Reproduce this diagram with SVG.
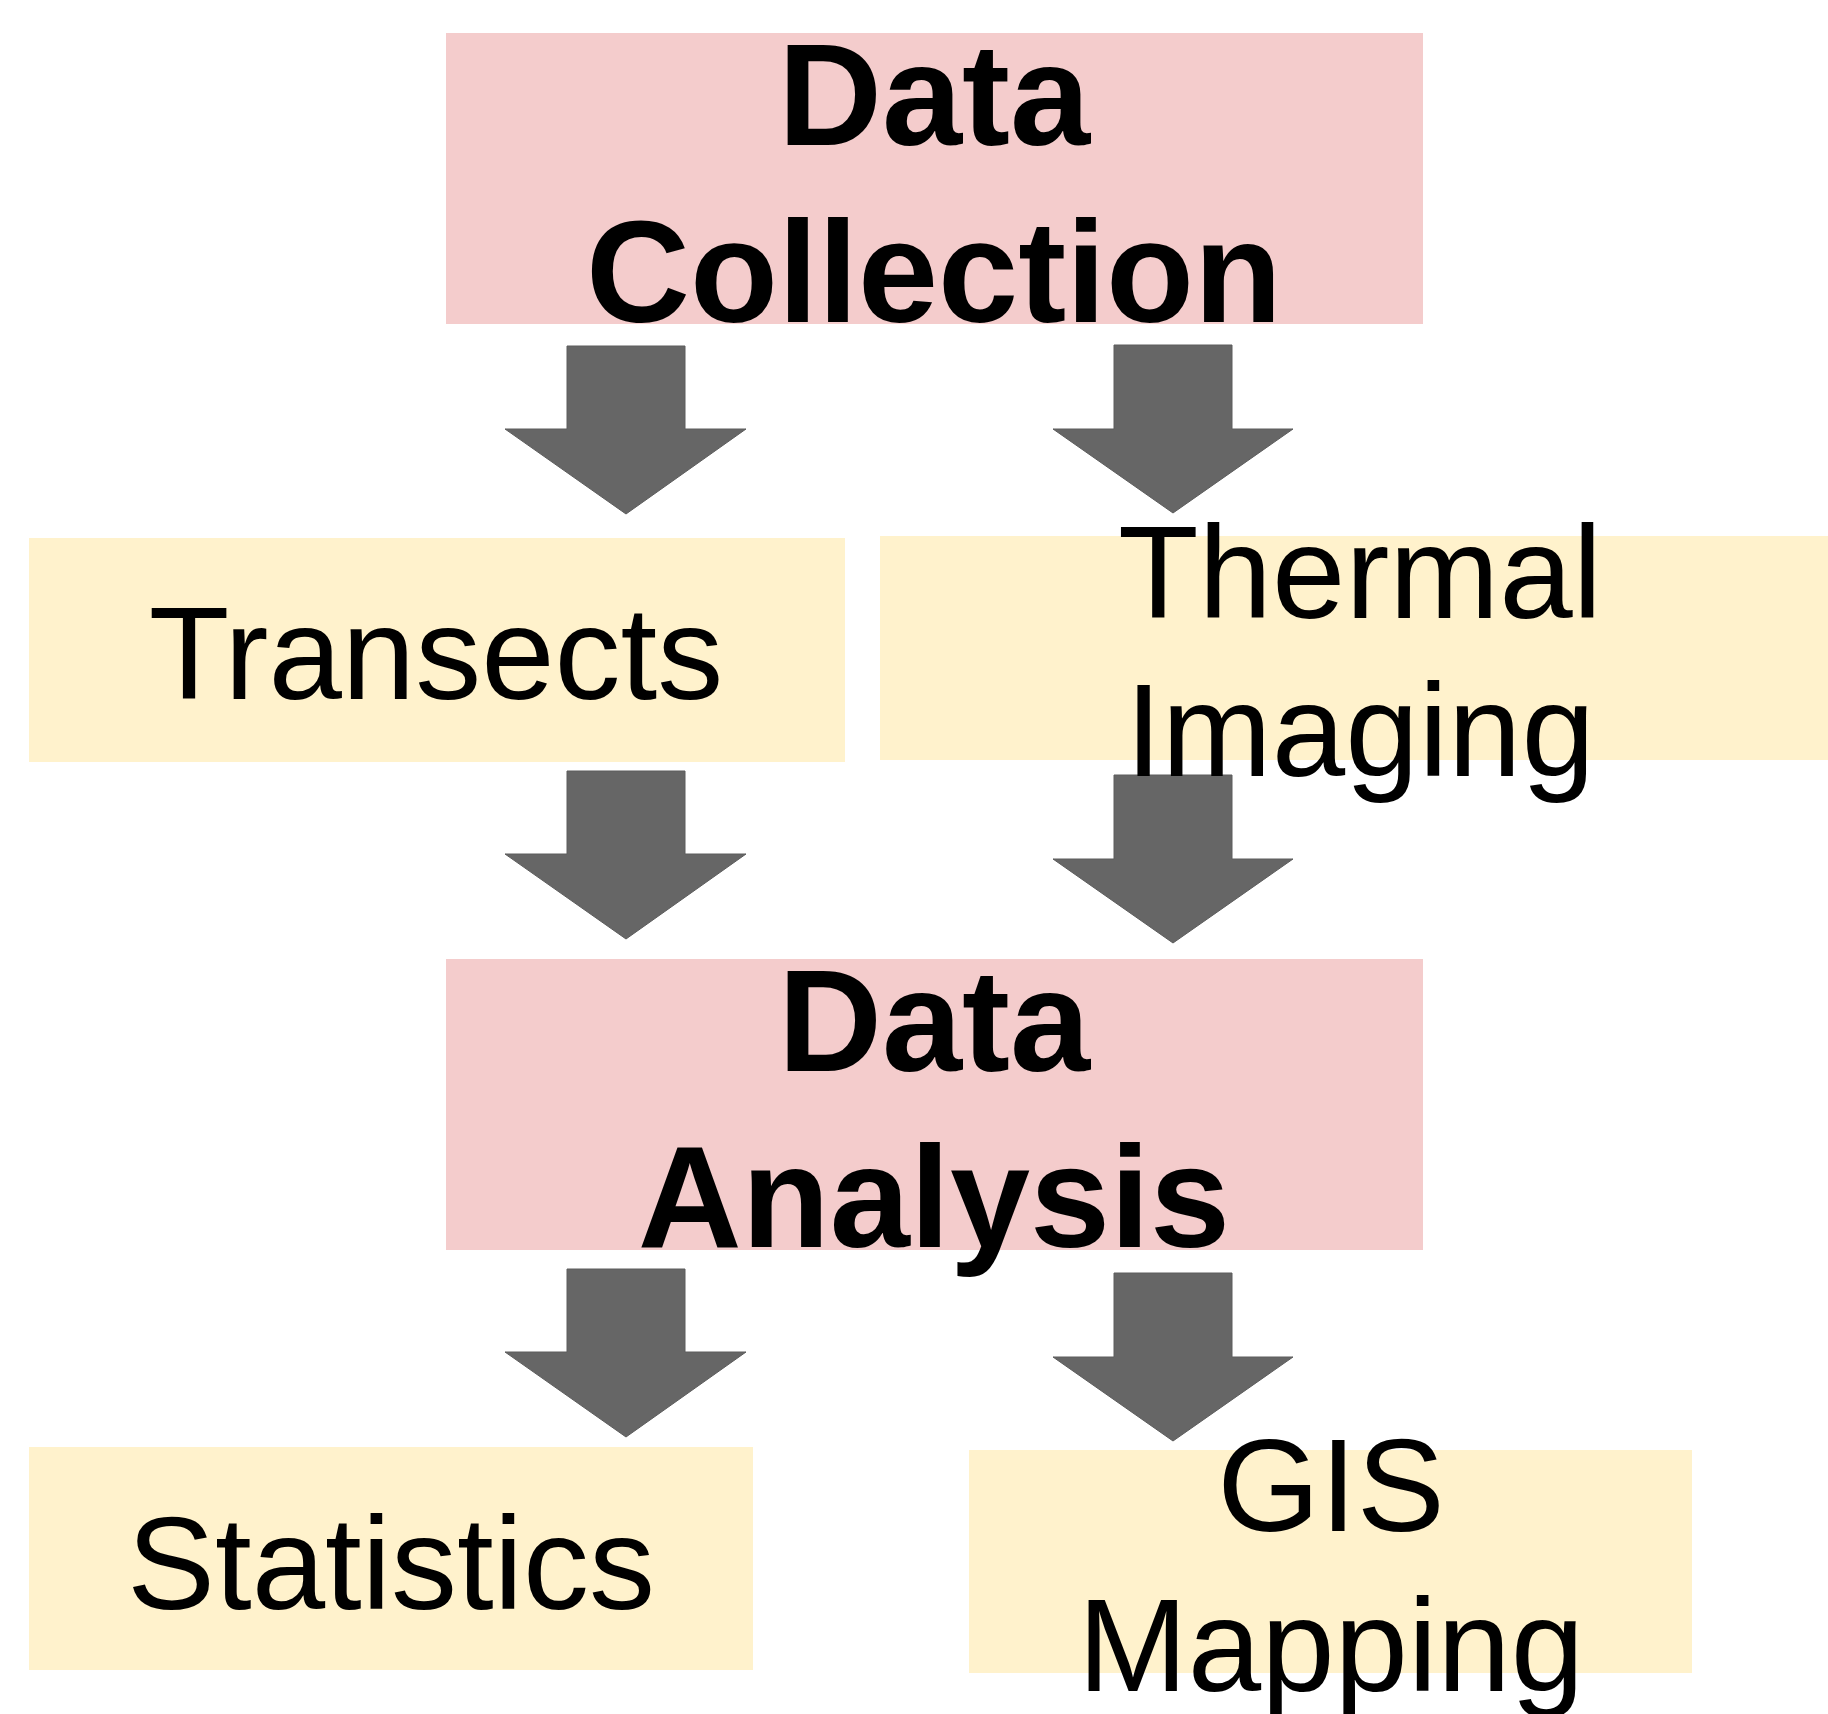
<svg xmlns="http://www.w3.org/2000/svg" width="1828" height="1714" viewBox="0 0 1828 1714">
<style>
.pink{fill:#F4CCCC}
.yellow{fill:#FFF2CC}
.arrow{fill:#666666;stroke:#5c5c5c;stroke-width:1}
.hd{font-family:"Liberation Sans",Arial,sans-serif;font-weight:bold;font-size:144px;fill:#000;text-anchor:middle}
.lb{font-family:"Liberation Sans",Arial,sans-serif;font-size:132px;fill:#000;text-anchor:middle}
</style>
<rect width="1828" height="1714" fill="#ffffff"/>
<g id="connectors">
<polygon class="arrow" points="567,346 685,346 685,429 746,429 626,514 505,429 567,429"/>
<polygon class="arrow" points="1114,345 1232,345 1232,429 1293,429 1173,513 1053,429 1114,429"/>
<polygon class="arrow" points="567,771 685,771 685,854 746,854 626,939 505,854 567,854"/>
<polygon class="arrow" points="1114,775 1232,775 1232,859 1293,859 1173,943 1053,859 1114,859"/>
<polygon class="arrow" points="567,1269 685,1269 685,1352 746,1352 626,1437 505,1352 567,1352"/>
<polygon class="arrow" points="1114,1273 1232,1273 1232,1357 1293,1357 1173,1441 1053,1357 1114,1357"/>
</g>
<g id="data-collection">
<rect class="pink" x="446" y="33" width="977" height="291"/>
<text class="hd" x="934" y="145">Data</text>
<text class="hd" x="934" y="322">Collection</text>
</g>
<g id="transects">
<rect class="yellow" x="29" y="538" width="816" height="224"/>
<text class="lb" x="436" y="699">Transects</text>
</g>
<g id="thermal-imaging">
<rect class="yellow" x="880" y="536" width="960" height="224"/>
<text class="lb" x="1360" y="618">Thermal</text>
<text class="lb" x="1360" y="776">Imaging</text>
</g>
<g id="data-analysis">
<rect class="pink" x="446" y="959" width="977" height="291"/>
<text class="hd" x="934" y="1071">Data</text>
<text class="hd" x="934" y="1247">Analysis</text>
</g>
<g id="statistics">
<rect class="yellow" x="29" y="1447" width="724" height="223"/>
<text class="lb" x="391" y="1609">Statistics</text>
</g>
<g id="gis-mapping">
<rect class="yellow" x="969" y="1450" width="723" height="223"/>
<text class="lb" x="1331" y="1531">GIS</text>
<text class="lb" x="1331" y="1691">Mapping</text>
</g>
</svg>
